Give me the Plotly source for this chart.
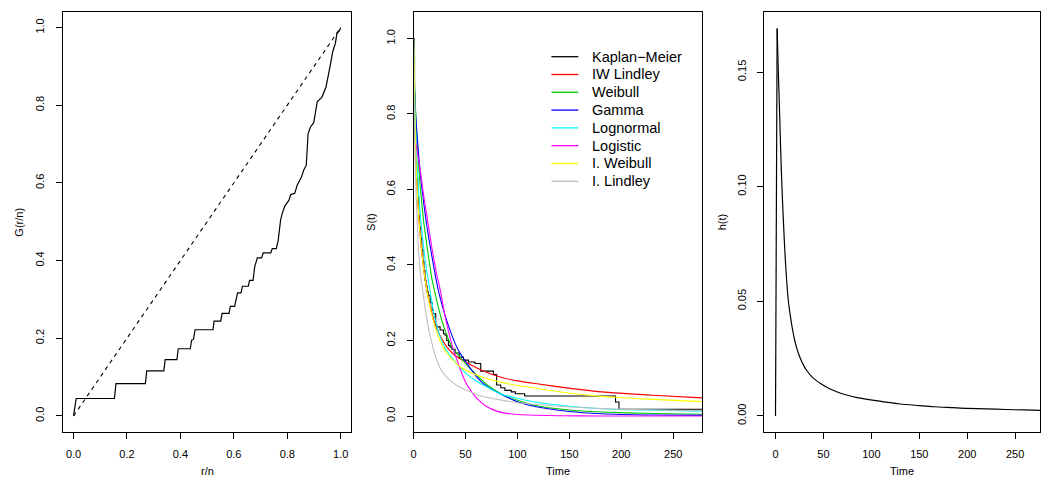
import plotly.graph_objects as go

# ---------------- data ----------------
# Panel 1: TTT plot
ttt_x = [0, 0.01, 0.153, 0.159, 0.269, 0.274, 0.338, 0.343, 0.387, 0.392,
         0.437, 0.442, 0.449, 0.455, 0.522, 0.526, 0.551, 0.556, 0.582, 0.587,
         0.603, 0.608, 0.614, 0.627, 0.632, 0.654, 0.659, 0.672, 0.678, 0.688,
         0.704, 0.71, 0.738, 0.744, 0.759, 0.766, 0.775, 0.781, 0.791, 0.806,
         0.813, 0.828, 0.837, 0.853, 0.862, 0.871, 0.878, 0.887, 0.899, 0.905,
         0.912, 0.93, 0.945, 0.961, 0.97, 0.98, 0.986, 0.995, 1.0]
ttt_y = [0, 0.045, 0.045, 0.083, 0.083, 0.116, 0.116, 0.145, 0.145, 0.173,
         0.173, 0.195, 0.197, 0.222, 0.222, 0.244, 0.244, 0.264, 0.264, 0.282,
         0.282, 0.3, 0.317, 0.317, 0.334, 0.334, 0.349, 0.349, 0.384, 0.407,
         0.407, 0.42, 0.42, 0.431, 0.431, 0.452, 0.504, 0.521, 0.541, 0.555,
         0.57, 0.573, 0.594, 0.615, 0.634, 0.645, 0.727, 0.744, 0.755, 0.779,
         0.809, 0.821, 0.847, 0.903, 0.937, 0.959, 0.985, 0.991, 1.0]
diag_x = [0, 1]
diag_y = [0, 1]

# Panel 2: Kaplan-Meier and fitted survival curves
km_t = [0, 0.5, 1, 1.5, 2, 2.5, 3, 4, 5, 6, 7, 8, 9, 10, 11, 12, 13, 14, 16, 18,
        19.2, 21.4, 22.4, 25.6, 28.8, 30.4, 32, 33.6, 35.2, 37, 40, 44, 48, 52.8,
        59.2, 64.7, 77, 80, 84, 88, 94, 98, 107, 193, 194.5, 197.8, 278]
km_s = [1.0, 0.95, 0.85, 0.77, 0.71, 0.67, 0.63, 0.58, 0.53, 0.5, 0.47, 0.44, 0.41,
        0.385, 0.36, 0.345, 0.33, 0.32, 0.3, 0.28, 0.271, 0.24, 0.236, 0.228, 0.218,
        0.214, 0.2, 0.187, 0.183, 0.177, 0.167, 0.156, 0.148, 0.143, 0.139, 0.119,
        0.11, 0.082, 0.075, 0.068, 0.064, 0.059, 0.053, 0.053, 0.037, 0.018, 0.018]

t_a = [0, 0.5, 1, 2, 3, 5, 7, 10, 13, 17, 22, 27, 32, 38, 45, 53, 65, 85, 100,
       117, 149, 181, 230, 278]
iwl_s = [1.0, 0.93, 0.83, 0.70, 0.625, 0.53, 0.46, 0.385, 0.33, 0.28, 0.235, 0.205,
         0.183, 0.165, 0.151, 0.139, 0.122, 0.102, 0.093, 0.086, 0.074, 0.064, 0.055,
         0.048]
iweib_s = [1.0, 0.95, 0.85, 0.71, 0.63, 0.53, 0.46, 0.385, 0.33, 0.275, 0.225, 0.19,
           0.167, 0.148, 0.13, 0.118, 0.104, 0.089, 0.081, 0.074, 0.061, 0.052, 0.044,
           0.038]

weib_t = [0, 1, 2, 3, 5, 7, 10, 13, 17.6, 22, 27, 32, 37, 45, 53, 62, 72, 85, 100,
          117, 150, 181, 230, 278]
weib_s = [1.0, 0.88, 0.81, 0.75, 0.66, 0.59, 0.51, 0.45, 0.365, 0.31, 0.255, 0.215,
          0.183, 0.155, 0.13, 0.105, 0.08, 0.058, 0.042, 0.028, 0.016, 0.0107, 0.0065,
          0.0045]

gam_t = [0, 0.5, 1, 2, 3, 5, 7, 10, 13, 16, 20.8, 25, 30, 36.8, 43, 52.8, 62, 72,
         84.8, 100, 117, 150, 181, 230, 278]
gam_s = [1.0, 0.9, 0.86, 0.8, 0.76, 0.69, 0.63, 0.56, 0.5, 0.45, 0.375, 0.32, 0.27,
         0.215, 0.175, 0.134, 0.1, 0.076, 0.057, 0.038, 0.025, 0.012, 0.0062, 0.0028,
         0.0018]

lnorm_t = [0, 1, 2, 3, 5, 7, 10, 13, 16, 20, 25, 30, 37, 45, 53, 62, 70, 85, 100,
           117, 150, 190, 230, 278]
lnorm_s = [1.0, 0.86, 0.76, 0.69, 0.59, 0.52, 0.44, 0.38, 0.33, 0.265, 0.215, 0.182,
           0.154, 0.128, 0.107, 0.09, 0.078, 0.057, 0.047, 0.037, 0.026, 0.018, 0.0155,
           0.013]

logis_t = [0, 3, 6, 10, 14, 18, 22, 26, 30, 34, 38, 43, 50, 56, 62, 70, 80, 90, 100,
           117, 140, 180, 230, 278]
logis_s = [0.76, 0.71, 0.66, 0.58, 0.51, 0.44, 0.38, 0.33, 0.27, 0.22, 0.18, 0.139,
           0.09, 0.064, 0.044, 0.026, 0.013, 0.007, 0.004, 0.002, 0.0008, 0.0002,
           0.0001, 0.0]

ilind_t = [0, 0.5, 1, 2, 3, 4, 5, 7, 9, 12, 15, 18, 21, 27, 35, 43, 53, 62, 75, 85,
           100, 117, 150, 190, 230, 278]
ilind_s = [1.0, 0.85, 0.75, 0.63, 0.55, 0.49, 0.43, 0.37, 0.33, 0.27, 0.225, 0.19,
           0.16, 0.12, 0.095, 0.079, 0.066, 0.055, 0.047, 0.042, 0.035, 0.031, 0.024,
           0.019, 0.016, 0.014]

legend_labels = ["Kaplan\u2212Meier", "IW Lindley", "Weibull", "Gamma", "Lognormal",
                 "Logistic", "I. Weibull", "I. Lindley"]
legend_colors = ["#000000", "#FF0000", "#00CC00", "#0000FF", "#00FFFF", "#FF00FF",
                 "#FFFF00", "#BEBEBE"]

# Panel 3: hazard function
haz_t = [0, 1.7, 2.8, 4.0, 4.9, 6.0, 7.3, 9.0, 10.7, 13.2, 15.5, 17.7, 20, 22,
         25, 29.8, 33, 37, 42, 47, 54, 60, 68, 75, 85, 102.6, 115, 130, 150, 165,
         185, 200, 220, 240, 260, 280]
haz_h = [0, 0.169, 0.152, 0.136, 0.123, 0.108, 0.094, 0.078, 0.065, 0.051, 0.0435,
         0.0378, 0.033, 0.0298, 0.026, 0.0216, 0.0196, 0.0175, 0.0156, 0.0141, 0.0124,
         0.0112, 0.0099, 0.0090, 0.0080, 0.0068, 0.0060, 0.0052, 0.0045, 0.0040,
         0.0036, 0.0033, 0.0031, 0.0028, 0.0026, 0.0024]

# ---------------- figure ----------------
W, H = 1041, 479
FONT = "Liberation Sans, Arial, Helvetica, sans-serif"


def fx(px):
    return px / W


def fy(py):
    return 1 - py / H


fig = go.Figure()

# panel 1
fig.add_trace(go.Scatter(x=ttt_x, y=ttt_y, mode="lines", xaxis="x", yaxis="y",
                         line=dict(color="black", width=1.2), showlegend=False))
fig.add_trace(go.Scatter(x=diag_x, y=diag_y, mode="lines", xaxis="x", yaxis="y",
                         line=dict(color="black", width=1.1, dash="4px,4px"),
                         showlegend=False))

# panel 2
fig.add_trace(go.Scatter(x=km_t, y=km_s, mode="lines", name=legend_labels[0],
                         xaxis="x2", yaxis="y2", showlegend=False,
                         line=dict(color=legend_colors[0], width=1.1, shape="hv")))
curves = [
    (t_a, iwl_s),
    (weib_t, weib_s),
    (gam_t, gam_s),
    (lnorm_t, lnorm_s),
    (logis_t, logis_s),
    (t_a, iweib_s),
    (ilind_t, ilind_s),
]
for i, (tx, sy) in enumerate(curves, start=1):
    fig.add_trace(go.Scatter(x=tx, y=sy, mode="lines", name=legend_labels[i],
                             xaxis="x2", yaxis="y2", showlegend=False,
                             line=dict(color=legend_colors[i], width=1.1,
                                       shape="spline", smoothing=0.5)))

# panel 3 (rise, then smooth decay)
fig.add_trace(go.Scatter(x=haz_t[:2], y=haz_h[:2], mode="lines", xaxis="x3", yaxis="y3",
                         line=dict(color="black", width=1.2), showlegend=False))
fig.add_trace(go.Scatter(x=haz_t[1:], y=haz_h[1:], mode="lines", xaxis="x3", yaxis="y3",
                         line=dict(color="black", width=1.2, shape="spline", smoothing=0.8),
                         showlegend=False))

ydom = [fy(431.5), fy(12)]
base = dict(showline=True, mirror=True, linecolor="black", linewidth=1,
            ticks="outside", ticklen=6, tickwidth=1, tickcolor="black",
            showgrid=False, zeroline=False, fixedrange=True,
            tickfont=dict(family=FONT, size=11, color="black"))

fig.update_layout(
    width=W, height=H, margin=dict(l=0, r=0, t=0, b=0),
    paper_bgcolor="white", plot_bgcolor="white",
    font=dict(family=FONT, size=11, color="black"),
    showlegend=False,
    xaxis=dict(base, domain=[fx(60), fx(349.4)], range=[-0.04, 1.04], anchor="y",
               tickvals=[0, 0.2, 0.4, 0.6, 0.8, 1.0],
               ticktext=["0.0", "0.2", "0.4", "0.6", "0.8", "1.0"], ticklabelstandoff=6),
    yaxis=dict(base, domain=ydom, range=[-0.04, 1.04], anchor="x",
               tickvals=[0, 0.2, 0.4, 0.6, 0.8, 1.0],
               ticktext=["0.0", "0.2", "0.4", "0.6", "0.8", "1.0"], tickangle=-90,
               ticklabelstandoff=7),
    xaxis2=dict(base, domain=[fx(411.7), fx(701.3)], range=[0, 278], anchor="y2",
                tickvals=[0, 50, 100, 150, 200, 250], ticklabelstandoff=6),
    yaxis2=dict(base, domain=ydom, range=[-0.041, 1.07], anchor="x2",
                tickvals=[0, 0.2, 0.4, 0.6, 0.8, 1.0],
                ticktext=["0.0", "0.2", "0.4", "0.6", "0.8", "1.0"], tickangle=-90,
                ticklabelstandoff=7),
    xaxis3=dict(base, domain=[fx(763.3), fx(1040)], range=[-11.9, 275.9], anchor="y3",
                tickvals=[0, 50, 100, 150, 200, 250], ticklabelstandoff=6),
    yaxis3=dict(base, domain=ydom, range=[-0.0068, 0.1762], anchor="x3",
                tickvals=[0, 0.05, 0.10, 0.15],
                ticktext=["0.00", "0.05", "0.10", "0.15"], tickangle=-90,
                ticklabelstandoff=7),
)

# legend of the middle panel (no box), drawn as line keys + labels
for i, (lab, col) in enumerate(zip(legend_labels, legend_colors)):
    yc = fy(56.7 + i * 17.8)
    fig.add_shape(type="line", xref="paper", yref="paper",
                  x0=fx(550), x1=fx(577), y0=yc, y1=yc,
                  line=dict(color=col, width=1.3))
    fig.add_annotation(text=lab, x=fx(589), y=yc, xref="paper", yref="paper",
                       showarrow=False, xanchor="left", yanchor="middle",
                       font=dict(family=FONT, size=14.5, color="black"))

titles = [
    ("r/n", 204.7, 462.5, 0),
    ("Time", 556.5, 462.5, 0),
    ("Time", 902.0, 462.5, 0),
    ("G(r/n)", 16, 221.7, -90),
    ("S(t)", 368.3, 221.7, -90),
    ("h(t)", 720.7, 221.7, -90),
]
for txt, px, py, ang in titles:
    fig.add_annotation(text=txt, x=fx(px), y=fy(py), xref="paper", yref="paper",
                       showarrow=False, textangle=ang,
                       xanchor="center", yanchor="top" if ang == 0 else "middle",
                       font=dict(family=FONT, size=11, color="black"))

fig.write_html("out.html", config={"displayModeBar": False},
               post_script="document.body.style.margin='0';document.body.style.overflow='hidden';")
